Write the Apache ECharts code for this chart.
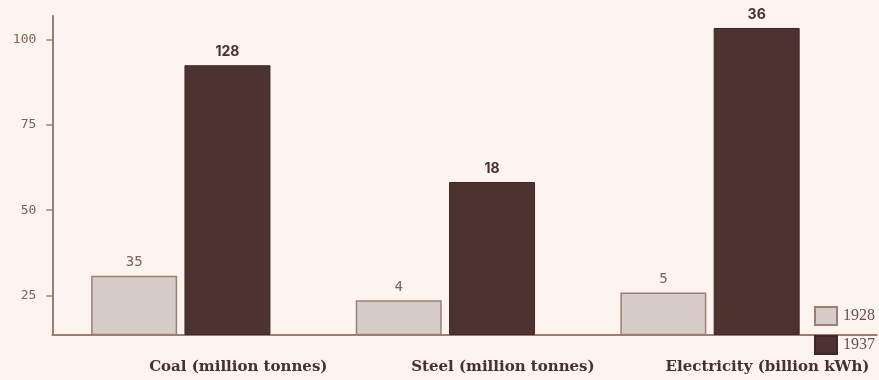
<!DOCTYPE html>
<html>
<head>
<meta charset="utf-8">
<script src="https://cdn.jsdelivr.net/npm/echarts@6/dist/echarts.min.js"></script>
<style>
  html, body { margin: 0; padding: 0; background: #fdf4ef; }
  #chart { width: 879px; height: 380px; }
</style>
</head>
<body>
<div id="chart"></div>
<script>
const categories = ['Coal (million tonnes)', 'Steel (million tonnes)', 'Electricity (billion kWh)'];
const seriesNames = ['1928', '1937'];
const barHeights1928 = [30.85, 23.65, 25.9];
const barHeights1937 = [92.4, 58.25, 103.3];
const valueLabels1928 = [35, 4, 5];
const valueLabels1937 = [128, 18, 36];
const yTickValues = [25, 50, 75, 100];
const yMin = 13.65;
const yMax = 106.8;

const axisColor = '#9b7f74';
const chart = echarts.init(document.getElementById('chart'));
chart.setOption({
  backgroundColor: '#fdf4ef',
  animation: false,
  legend: {
    orient: 'vertical',
    left: 814,
    top: 306,
    padding: 0,
    itemWidth: 22,
    itemHeight: 18,
    itemGap: 9,
    icon: 'rect',
    textStyle: { fontFamily: 'Liberation Serif', fontSize: 16, color: '#6b4f48', padding: [3, 0, 0, 1] },
    data: seriesNames
  },
  grid: [
    { left: 48.5, right: 36.7, top: 16, bottom: 45.5 },
    { left: 52.3, right: 2.3, top: 16, bottom: 45.5 }
  ],
  xAxis: [
    {
      type: 'category', gridIndex: 0, data: categories,
      axisLine: { show: false }, axisTick: { show: false },
      axisLabel: {
        interval: 0, hideOverlap: false,
        margin: 25, padding: [0, 0, 0, 115],
        fontFamily: 'DejaVu Serif', fontWeight: 'bold', fontSize: 15, color: '#4a302c'
      }
    },
    {
      type: 'value', gridIndex: 1, min: 0, max: 1,
      axisLine: { show: true, lineStyle: { color: axisColor, width: 2 } },
      axisTick: { show: false }, axisLabel: { show: false }, splitLine: { show: false }
    }
  ],
  yAxis: [
    {
      type: 'value', gridIndex: 0, min: yMin, max: yMax,
      axisLine: { show: false }, axisTick: { show: false }, axisLabel: { show: false }, splitLine: { show: false }
    },
    {
      type: 'value', gridIndex: 1, min: yMin, max: yMax,
      axisLine: { show: true, lineStyle: { color: axisColor, width: 2 } },
      axisTick: { show: true, length: 6, customValues: yTickValues, lineStyle: { color: axisColor, width: 1.5 } },
      axisLabel: { customValues: yTickValues, margin: 16, fontFamily: 'DejaVu Sans Mono', fontSize: 13, color: '#7d625a' },
      splitLine: { show: false }
    }
  ],
  series: [
    {
      name: seriesNames[0], type: 'bar', xAxisIndex: 0, yAxisIndex: 0,
      data: barHeights1928, barWidth: 86, barGap: '8.5%',
      itemStyle: { color: '#d8ccc8', borderColor: '#9b7f74', borderWidth: 1.5 },
      label: {
        show: true, position: 'top', distance: 6,
        formatter: p => String(valueLabels1928[p.dataIndex]),
        fontFamily: 'DejaVu Sans Mono', fontSize: 14, color: '#7d625a'
      }
    },
    {
      name: seriesNames[1], type: 'bar', xAxisIndex: 0, yAxisIndex: 0,
      data: barHeights1937, barWidth: 86, barGap: '8.5%',
      itemStyle: { color: '#4d3330', borderColor: '#3e2825', borderWidth: 1 },
      label: {
        show: true, position: 'top', distance: 6,
        formatter: p => String(valueLabels1937[p.dataIndex]),
        fontFamily: 'Inter', fontWeight: 'bold', fontSize: 14, color: '#4a302c'
      }
    }
  ]
});
</script>
</body>
</html>
